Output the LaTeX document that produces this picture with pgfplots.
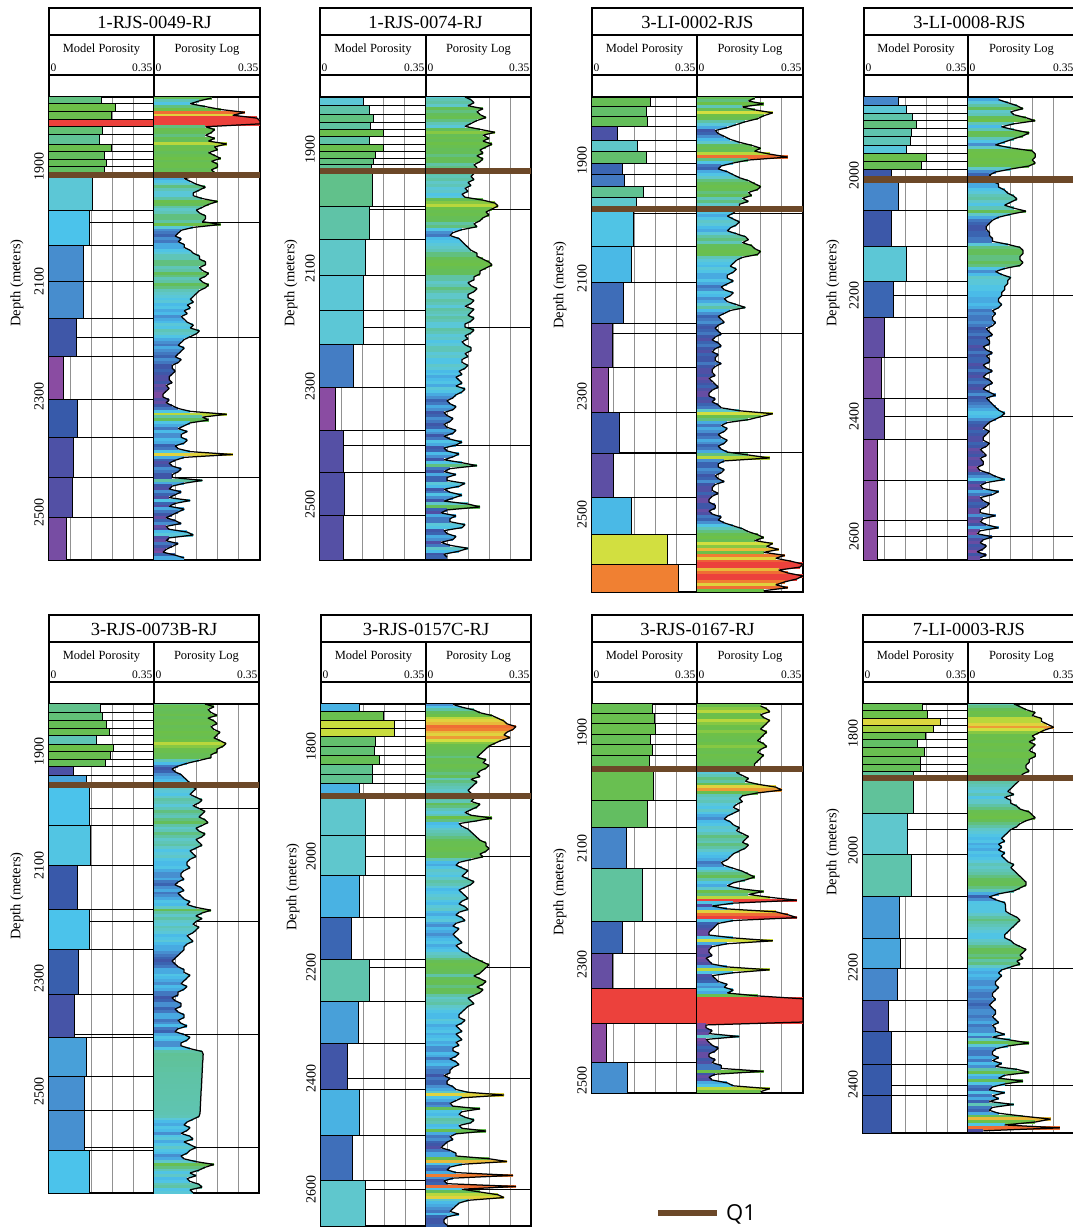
\documentclass[border=0pt]{standalone}
\usepackage{fontspec}
\setmainfont{Liberation Serif}
\newfontfamily\legfont{Open Sans}
\usepackage{pgfplots}
\usepackage{pgfplotstable}
\pgfplotsset{compat=1.18}

\definecolor{gridgray}{RGB}{145,145,145}
\definecolor{qbrown}{RGB}{108,72,40}

\pgfplotsset{
  % colour scale of the model porosity blocks
  colormap={poro}{
    rgb255(0pt)=(140,75,160)
    rgb255(50pt)=(138,76,162)
    rgb255(62pt)=(110,78,163)
    rgb255(80pt)=(80,80,165)
    rgb255(95pt)=(55,90,170)
    rgb255(112pt)=(70,130,200)
    rgb255(125pt)=(72,165,220)
    rgb255(134pt)=(75,195,235)
    rgb255(146pt)=(95,200,210)
    rgb255(165pt)=(95,195,165)
    rgb255(185pt)=(100,190,90)
    rgb255(225pt)=(110,192,70)
    rgb255(240pt)=(185,215,60)
    rgb255(252pt)=(215,225,65)
    rgb255(265pt)=(230,200,60)
    rgb255(290pt)=(240,125,50)
    rgb255(330pt)=(236,65,60)
    rgb255(350pt)=(236,65,60)
  },
  % colour scale of the porosity log samples
  colormap={logmap}{
    rgb255(0pt)=(140,75,160)
    rgb255(30pt)=(125,75,162)
    rgb255(50pt)=(80,80,165)
    rgb255(65pt)=(55,90,170)
    rgb255(85pt)=(70,130,200)
    rgb255(100pt)=(72,170,225)
    rgb255(115pt)=(75,195,235)
    rgb255(135pt)=(95,200,210)
    rgb255(160pt)=(95,195,165)
    rgb255(180pt)=(100,190,90)
    rgb255(225pt)=(110,192,70)
    rgb255(240pt)=(185,215,60)
    rgb255(252pt)=(215,225,65)
    rgb255(265pt)=(230,200,60)
    rgb255(290pt)=(240,125,50)
    rgb255(330pt)=(236,65,60)
    rgb255(350pt)=(236,65,60)
  },
  track/.style={
    anchor=north west, scale only axis,
    xmin=0, xmax=0.35, y dir=reverse,
    axis line style={line width=1.3pt},
    xtick={0.07,0.14,0.21,0.28}, xticklabels={}, xmajorgrids,
    major grid style={line width=0.9pt, color=gridgray},
    major tick length=0pt,
    colormap name=poro, point meta min=0, point meta max=0.35,
  },
  logaxis/.style={track, colormap name=logmap, ytick=\empty},
  depthticks/.style={
    yticklabel style={rotate=90, anchor=south, inner sep=0pt,
      font=\fontsize{14}{14}\selectfont},
    yticklabel shift=5pt,
  },
}

% model porosity blocks: top, bottom, porosity; horizontal grid; Q1 depth; pt per metre
\newcommand{\modeltrack}[4]{%
  \addplot[black, line width=0.7pt, quiver={u=0.35,v=0}] table[x expr=0, y=gd] {#2};
  \addplot[quiver={u=-\thisrow{por}, v=0, colored=mapped color,
      every arrow/.append style={line width={\bh*#4*1pt}}},
    point meta=\thisrow{por},
    visualization depends on={\thisrow{bot}-\thisrow{top} \as \bh}]
    table[x=por, y expr={(\thisrow{top}+\thisrow{bot})/2}] {#1};
  \addplot[black, line width=0.7pt, quiver={u=0.35,v=0}] table[x expr=0, y=top] {#1};
  \addplot[black, line width=0.7pt, quiver={u=0.35,v=0}] table[x expr=0, y=bot] {#1};
  \addplot[black, line width=0.7pt, quiver={u=0,v=\thisrow{bot}-\thisrow{top}}] table[x=por, y=top] {#1};
  \addplot[qbrown, line width=6.5pt] coordinates {(0,#3) (0.35,#3)};
}
% porosity log sampled every 5 m: depth, porosity
\newcommand{\logtrack}[4]{%
  \addplot[black, line width=0.7pt, quiver={u=0.35,v=0}] table[x expr=0, y=gd] {#2};
  \addplot[quiver={u=-\thisrow{p}, v=0, colored=mapped color},
    point meta=\thisrow{p}, line width={5*#4*1pt+0.4pt}] table[x=p, y=d] {#1};
  \addplot[black, line width=1.25pt, line join=bevel] table[x=p, y=d] {#1};
  \addplot[qbrown, line width=6.5pt] coordinates {(0,#3) (0.35,#3)};
}
% header boxes of a well: left, divider, right, top, name
\newcommand{\wellframe}[5]{%
  \begin{scope}[x=1pt,y=-1pt]
  \draw[line width=1.3pt] (#1,#4) rectangle (#3,#4+27);
  \draw[line width=1.3pt] (#1,#4+27) rectangle (#3,#4+67);
  \draw[line width=1.3pt] (#1,#4+67) rectangle (#3,#4+89);
  \draw[line width=1.3pt] (#2,#4+27) -- (#2,#4+89);
  \node[font=\fontsize{18.5}{18.5}\selectfont] at ({(#1+#3)/2},#4+14) {#5};
  \node[font=\fontsize{12.5}{12.5}\selectfont] at ({(#1+#2)/2},#4+42) {Model Porosity};
  \node[font=\fontsize{12.5}{12.5}\selectfont] at ({(#2+#3)/2},#4+42) {Porosity Log};
  \node[font=\fontsize{11.5}{11.5}\selectfont, anchor=west, inner sep=1.5pt] at (#1,#4+60) {0};
  \node[font=\fontsize{11.5}{11.5}\selectfont, anchor=east, inner sep=1.5pt] at (#2,#4+60) {0.35};
  \node[font=\fontsize{11.5}{11.5}\selectfont, anchor=west, inner sep=1.5pt] at (#2,#4+60) {0};
  \node[font=\fontsize{11.5}{11.5}\selectfont, anchor=east, inner sep=1.5pt] at (#3,#4+60) {0.35};
  \end{scope}
}
\newcommand{\depthlabel}[2]{%
  \node[rotate=90, font=\fontsize{14.5}{14.5}\selectfont] at (#1pt,-#2pt) {Depth (meters)};
}

% ---------------- 1-RJS-0049-RJ ----------------
\pgfplotstableread{
top bot por
1778 1790 0.175
1790 1804 0.220
1804 1818 0.208
1818 1830 0.350
1830 1844 0.178
1844 1860 0.169
1860 1873 0.208
1873 1887 0.184
1887 1899 0.190
1899 1914 0.183
1914 1975 0.144
1975 2036 0.134
2036 2099 0.116
2099 2163 0.116
2163 2229 0.090
2229 2304 0.047
2304 2370 0.095
2370 2439 0.082
2439 2510 0.078
2510 2584 0.058
}\blkA
\pgfplotstableread{
gd
1997
2196
2439
}\gridA
\pgfplotstableread[row sep=\\]{
d p\\
1780 0.19\\ 1785 0.15\\ 1790 0.12\\ 1795 0.17\\ 1800 0.22\\ 1805 0.30\\ 1810 0.26\\ 1815 0.34\\
1820 0.35\\ 1825 0.35\\ 1830 0.17\\ 1835 0.20\\ 1840 0.19\\ 1845 0.17\\ 1850 0.20\\ 1855 0.18\\
1860 0.24\\ 1865 0.20\\ 1870 0.21\\ 1875 0.18\\ 1880 0.20\\ 1885 0.22\\ 1890 0.19\\ 1895 0.21\\
1900 0.21\\ 1905 0.19\\ 1910 0.20\\ 1915 0.15\\ 1920 0.10\\ 1925 0.12\\ 1930 0.14\\ 1935 0.17\\
1940 0.15\\ 1945 0.13\\ 1950 0.13\\ 1955 0.16\\ 1960 0.21\\ 1965 0.18\\ 1970 0.16\\ 1975 0.14\\
1980 0.15\\ 1985 0.17\\ 1990 0.17\\ 1995 0.16\\ 2000 0.22\\ 2005 0.13\\ 2010 0.09\\ 2015 0.08\\
2020 0.07\\ 2025 0.09\\ 2030 0.08\\ 2035 0.10\\ 2040 0.10\\ 2045 0.12\\ 2050 0.13\\ 2055 0.15\\
2060 0.15\\ 2065 0.17\\ 2070 0.17\\ 2075 0.15\\ 2080 0.16\\ 2085 0.18\\ 2090 0.17\\ 2095 0.15\\
2100 0.16\\ 2105 0.18\\ 2110 0.17\\ 2115 0.15\\ 2120 0.14\\ 2125 0.13\\ 2130 0.12\\ 2135 0.13\\
2140 0.11\\ 2145 0.12\\ 2150 0.10\\ 2155 0.11\\ 2160 0.09\\ 2165 0.10\\ 2170 0.11\\ 2175 0.13\\
2180 0.12\\ 2185 0.15\\ 2190 0.14\\ 2195 0.12\\ 2200 0.10\\ 2205 0.09\\ 2210 0.08\\ 2215 0.10\\
2220 0.09\\ 2225 0.08\\ 2230 0.07\\ 2235 0.09\\ 2240 0.08\\ 2245 0.06\\ 2250 0.06\\ 2255 0.07\\
2260 0.06\\ 2265 0.05\\ 2270 0.05\\ 2275 0.06\\ 2280 0.04\\ 2285 0.05\\ 2290 0.04\\ 2295 0.03\\
2300 0.03\\ 2305 0.05\\ 2310 0.04\\ 2315 0.06\\ 2320 0.08\\ 2325 0.12\\ 2330 0.24\\ 2335 0.16\\
2340 0.18\\ 2345 0.12\\ 2350 0.10\\ 2355 0.08\\ 2360 0.11\\ 2365 0.09\\ 2370 0.09\\ 2375 0.11\\
2380 0.10\\ 2385 0.07\\ 2390 0.08\\ 2395 0.12\\ 2400 0.26\\ 2405 0.10\\ 2410 0.07\\ 2415 0.05\\
2420 0.06\\ 2425 0.09\\ 2430 0.08\\ 2435 0.06\\ 2440 0.06\\ 2445 0.16\\ 2450 0.10\\ 2455 0.06\\
2460 0.05\\ 2465 0.09\\ 2470 0.07\\ 2475 0.05\\ 2480 0.12\\ 2485 0.07\\ 2490 0.05\\ 2495 0.10\\
2500 0.08\\ 2505 0.06\\ 2510 0.04\\ 2515 0.07\\ 2520 0.09\\ 2525 0.04\\ 2530 0.05\\ 2535 0.11\\
2540 0.13\\ 2545 0.05\\ 2550 0.04\\ 2555 0.08\\ 2560 0.06\\ 2565 0.04\\ 2570 0.03\\ 2575 0.07\\
2580 0.10\\
}\logA

% ---------------- 1-RJS-0074-RJ ----------------
\pgfplotstableread{
top bot por
1810 1825 0.144
1825 1840 0.164
1840 1853 0.175
1853 1865 0.166
1865 1877 0.210
1877 1890 0.164
1890 1903 0.210
1903 1914 0.183
1914 1925 0.175
1925 1936 0.170
1936 1996 0.172
1996 2051 0.164
2051 2112 0.150
2112 2171 0.144
2171 2230 0.144
2230 2303 0.110
2303 2375 0.050
2375 2447 0.077
2447 2520 0.080
2520 2595 0.077
}\blkB
\pgfplotstableread{
gd
2000
2200
2400
}\gridB
\pgfplotstableread[row sep=\\]{
d p\\
1810 0.13\\ 1815 0.15\\ 1820 0.16\\ 1825 0.14\\ 1830 0.19\\ 1835 0.17\\ 1840 0.18\\ 1845 0.20\\
1850 0.17\\ 1855 0.15\\ 1860 0.13\\ 1865 0.18\\ 1870 0.23\\ 1875 0.19\\ 1880 0.21\\ 1885 0.19\\
1890 0.22\\ 1895 0.20\\ 1900 0.18\\ 1905 0.19\\ 1910 0.17\\ 1915 0.19\\ 1920 0.18\\ 1925 0.16\\
1930 0.17\\ 1935 0.16\\ 1940 0.16\\ 1945 0.15\\ 1950 0.16\\ 1955 0.14\\ 1960 0.15\\ 1965 0.13\\
1970 0.14\\ 1975 0.12\\ 1980 0.13\\ 1985 0.19\\ 1990 0.23\\ 1995 0.24\\ 2000 0.22\\ 2005 0.20\\
2010 0.21\\ 2015 0.19\\ 2020 0.18\\ 2025 0.16\\ 2030 0.17\\ 2035 0.12\\ 2040 0.09\\ 2045 0.08\\
2050 0.11\\ 2055 0.12\\ 2060 0.13\\ 2065 0.14\\ 2070 0.15\\ 2075 0.17\\ 2080 0.17\\ 2085 0.19\\
2090 0.21\\ 2095 0.22\\ 2100 0.20\\ 2105 0.18\\ 2110 0.18\\ 2115 0.16\\ 2120 0.16\\ 2125 0.14\\
2130 0.15\\ 2135 0.17\\ 2140 0.16\\ 2145 0.14\\ 2150 0.14\\ 2155 0.16\\ 2160 0.15\\ 2165 0.13\\
2170 0.16\\ 2175 0.15\\ 2180 0.14\\ 2185 0.16\\ 2190 0.15\\ 2195 0.13\\ 2200 0.13\\ 2205 0.16\\
2210 0.15\\ 2215 0.13\\ 2220 0.14\\ 2225 0.12\\ 2230 0.13\\ 2235 0.15\\ 2240 0.15\\ 2245 0.13\\
2250 0.14\\ 2255 0.12\\ 2260 0.12\\ 2265 0.14\\ 2270 0.13\\ 2275 0.11\\ 2280 0.12\\ 2285 0.10\\
2290 0.11\\ 2295 0.12\\ 2300 0.10\\ 2305 0.13\\ 2310 0.12\\ 2315 0.10\\ 2320 0.09\\ 2325 0.07\\
2330 0.08\\ 2335 0.10\\ 2340 0.09\\ 2345 0.06\\ 2350 0.07\\ 2355 0.09\\ 2360 0.08\\ 2365 0.06\\
2370 0.07\\ 2375 0.10\\ 2380 0.09\\ 2385 0.06\\ 2390 0.08\\ 2395 0.12\\ 2400 0.10\\ 2405 0.06\\
2410 0.07\\ 2415 0.11\\ 2420 0.09\\ 2425 0.06\\ 2430 0.12\\ 2435 0.17\\ 2440 0.08\\ 2445 0.06\\
2450 0.10\\ 2455 0.07\\ 2460 0.07\\ 2465 0.13\\ 2470 0.11\\ 2475 0.06\\ 2480 0.08\\ 2485 0.12\\
2490 0.09\\ 2495 0.06\\ 2500 0.14\\ 2505 0.18\\ 2510 0.07\\ 2515 0.05\\ 2520 0.10\\ 2525 0.08\\
2530 0.08\\ 2535 0.13\\ 2540 0.12\\ 2545 0.06\\ 2550 0.07\\ 2555 0.10\\ 2560 0.09\\ 2565 0.05\\
2570 0.08\\ 2575 0.14\\ 2580 0.11\\ 2585 0.06\\ 2590 0.07\\
}\logB

% ---------------- 3-LI-0002-RJS ----------------
\pgfplotstableread{
top bot por
1793 1808.5 0.194
1808.5 1826.6 0.181
1826.6 1843.5 0.186
1843.5 1866 0.083
1866 1884.7 0.150
1884.7 1905.6 0.180
1905.6 1924.3 0.100
1924.3 1945.2 0.108
1945.2 1963.8 0.170
1963.8 1983 0.148
1983 2045.8 0.137
2045.8 2108 0.131
2108 2176.3 0.103
2176.3 2250.8 0.069
2250.8 2327.1 0.053
2327.1 2396.6 0.091
2396.6 2471.2 0.072
2471.2 2533.9 0.131
2533.9 2584.7 0.250
2584.7 2633 0.289
}\blkC
\pgfplotstableread{
gd
1990
2193
2395
}\gridC
\pgfplotstableread[row sep=\\]{
d p\\
1795 0.19\\ 1800 0.17\\ 1805 0.22\\ 1810 0.15\\ 1815 0.19\\ 1820 0.25\\ 1825 0.22\\ 1830 0.20\\
1835 0.16\\ 1840 0.13\\ 1845 0.10\\ 1850 0.06\\ 1855 0.07\\ 1860 0.09\\ 1865 0.11\\ 1870 0.14\\
1875 0.18\\ 1880 0.21\\ 1885 0.19\\ 1890 0.24\\ 1895 0.30\\ 1900 0.17\\ 1905 0.12\\ 1910 0.08\\
1915 0.07\\ 1920 0.10\\ 1925 0.12\\ 1930 0.14\\ 1935 0.17\\ 1940 0.19\\ 1945 0.21\\ 1950 0.20\\
1955 0.17\\ 1960 0.18\\ 1965 0.15\\ 1970 0.17\\ 1975 0.14\\ 1980 0.14\\ 1985 0.13\\ 1990 0.12\\
1995 0.10\\ 2000 0.12\\ 2005 0.14\\ 2010 0.13\\ 2015 0.11\\ 2020 0.10\\ 2025 0.13\\ 2030 0.16\\
2035 0.17\\ 2040 0.15\\ 2045 0.18\\ 2050 0.19\\ 2055 0.21\\ 2060 0.20\\ 2065 0.15\\ 2070 0.13\\
2075 0.12\\ 2080 0.11\\ 2085 0.13\\ 2090 0.12\\ 2095 0.10\\ 2100 0.10\\ 2105 0.12\\ 2110 0.10\\
2115 0.08\\ 2120 0.09\\ 2125 0.12\\ 2130 0.11\\ 2135 0.09\\ 2140 0.10\\ 2145 0.13\\ 2150 0.16\\
2155 0.11\\ 2160 0.09\\ 2165 0.07\\ 2170 0.08\\ 2175 0.09\\ 2180 0.07\\ 2185 0.06\\ 2190 0.07\\
2195 0.08\\ 2200 0.06\\ 2205 0.05\\ 2210 0.07\\ 2215 0.08\\ 2220 0.06\\ 2225 0.05\\ 2230 0.07\\
2235 0.06\\ 2240 0.06\\ 2245 0.08\\ 2250 0.06\\ 2255 0.05\\ 2260 0.05\\ 2265 0.06\\ 2270 0.04\\
2275 0.05\\ 2280 0.06\\ 2285 0.07\\ 2290 0.05\\ 2295 0.04\\ 2300 0.04\\ 2305 0.06\\ 2310 0.05\\
2315 0.07\\ 2320 0.08\\ 2325 0.14\\ 2330 0.25\\ 2335 0.21\\ 2340 0.17\\ 2345 0.10\\ 2350 0.08\\
2355 0.10\\ 2360 0.09\\ 2365 0.07\\ 2370 0.08\\ 2375 0.10\\ 2380 0.09\\ 2385 0.07\\ 2390 0.08\\
2395 0.10\\ 2400 0.17\\ 2405 0.24\\ 2410 0.09\\ 2415 0.07\\ 2420 0.07\\ 2425 0.09\\ 2430 0.08\\
2435 0.06\\ 2440 0.07\\ 2445 0.09\\ 2450 0.06\\ 2455 0.05\\ 2460 0.05\\ 2465 0.07\\ 2470 0.05\\
2475 0.04\\ 2480 0.04\\ 2485 0.06\\ 2490 0.06\\ 2495 0.04\\ 2500 0.05\\ 2505 0.08\\ 2510 0.07\\
2515 0.09\\ 2520 0.12\\ 2525 0.15\\ 2530 0.17\\ 2535 0.20\\ 2540 0.22\\ 2545 0.19\\ 2550 0.25\\
2555 0.23\\ 2560 0.27\\ 2565 0.22\\ 2570 0.29\\ 2575 0.26\\ 2580 0.31\\ 2585 0.35\\ 2590 0.34\\
2595 0.27\\ 2600 0.30\\ 2605 0.35\\ 2610 0.33\\ 2615 0.29\\ 2620 0.26\\ 2625 0.30\\ 2630 0.22\\
}\logC

% ---------------- 3-LI-0008-RJS ----------------
\pgfplotstableread{
top bot por
1870 1883.9 0.114
1883.9 1897.7 0.144
1897.7 1909.9 0.163
1909.9 1922.6 0.176
1922.6 1936.5 0.161
1936.5 1951.4 0.157
1951.4 1964 0.141
1964 1977.9 0.211
1977.9 1990.6 0.194
1990.6 2006.6 0.092
2006.6 2058 0.114
2058 2118.9 0.092
2118.9 2175.8 0.144
2175.8 2235.5 0.100
2235.5 2301.8 0.070
2301.8 2369.8 0.059
2369.8 2437.8 0.067
2437.8 2505.8 0.044
2505.8 2572.1 0.044
2572.1 2639 0.044
}\blkD
\pgfplotstableread{
gd
2200
2400
2600
}\gridD
\pgfplotstableread[row sep=\\]{
d p\\
1875 0.10\\ 1880 0.13\\ 1885 0.16\\ 1890 0.18\\ 1895 0.14\\ 1900 0.15\\ 1905 0.19\\ 1910 0.22\\
1915 0.15\\ 1920 0.11\\ 1925 0.15\\ 1930 0.20\\ 1935 0.18\\ 1940 0.15\\ 1945 0.12\\ 1950 0.09\\
1955 0.14\\ 1960 0.21\\ 1965 0.22\\ 1970 0.22\\ 1975 0.21\\ 1980 0.22\\ 1985 0.20\\ 1990 0.14\\
1995 0.09\\ 2000 0.07\\ 2005 0.08\\ 2010 0.08\\ 2015 0.10\\ 2020 0.10\\ 2025 0.12\\ 2030 0.13\\
2035 0.15\\ 2040 0.16\\ 2045 0.14\\ 2050 0.12\\ 2055 0.15\\ 2060 0.19\\ 2065 0.14\\ 2070 0.10\\
2075 0.08\\ 2080 0.07\\ 2085 0.06\\ 2090 0.06\\ 2095 0.07\\ 2100 0.07\\ 2105 0.08\\ 2110 0.08\\
2115 0.13\\ 2120 0.17\\ 2125 0.18\\ 2130 0.18\\ 2135 0.17\\ 2140 0.17\\ 2145 0.18\\ 2150 0.17\\
2155 0.12\\ 2160 0.09\\ 2165 0.11\\ 2170 0.14\\ 2175 0.13\\ 2180 0.13\\ 2185 0.12\\ 2190 0.12\\
2195 0.11\\ 2200 0.11\\ 2205 0.10\\ 2210 0.10\\ 2215 0.11\\ 2220 0.10\\ 2225 0.08\\ 2230 0.09\\
2235 0.08\\ 2240 0.08\\ 2245 0.09\\ 2250 0.08\\ 2255 0.06\\ 2260 0.07\\ 2265 0.08\\ 2270 0.06\\
2275 0.07\\ 2280 0.07\\ 2285 0.05\\ 2290 0.06\\ 2295 0.08\\ 2300 0.06\\ 2305 0.07\\ 2310 0.07\\
2315 0.05\\ 2320 0.06\\ 2325 0.08\\ 2330 0.06\\ 2335 0.05\\ 2340 0.07\\ 2345 0.08\\ 2350 0.06\\
2355 0.05\\ 2360 0.07\\ 2365 0.09\\ 2370 0.06\\ 2375 0.07\\ 2380 0.08\\ 2385 0.09\\ 2390 0.10\\
2395 0.12\\ 2400 0.11\\ 2405 0.09\\ 2410 0.07\\ 2415 0.06\\ 2420 0.05\\ 2425 0.07\\ 2430 0.06\\
2435 0.05\\ 2440 0.05\\ 2445 0.07\\ 2450 0.06\\ 2455 0.04\\ 2460 0.05\\ 2465 0.06\\ 2470 0.04\\
2475 0.05\\ 2480 0.05\\ 2485 0.03\\ 2490 0.04\\ 2495 0.07\\ 2500 0.09\\ 2505 0.12\\ 2510 0.06\\
2515 0.04\\ 2520 0.05\\ 2525 0.10\\ 2530 0.08\\ 2535 0.04\\ 2540 0.05\\ 2545 0.07\\ 2550 0.06\\
2555 0.04\\ 2560 0.04\\ 2565 0.09\\ 2570 0.05\\ 2575 0.04\\ 2580 0.06\\ 2585 0.10\\ 2590 0.04\\
2595 0.03\\ 2600 0.08\\ 2605 0.05\\ 2610 0.04\\ 2615 0.06\\ 2620 0.05\\ 2625 0.03\\ 2630 0.06\\
2635 0.04\\
}\logD

% ---------------- 3-RJS-0073B-RJ ----------------
\pgfplotstableread{
top bot por
1813 1829.7 0.172
1829.7 1843.4 0.177
1843.4 1858.1 0.192
1858.1 1869.9 0.200
1869.9 1885.8 0.158
1885.8 1899.5 0.214
1899.5 1912.9 0.205
1912.9 1926 0.188
1926 1941.9 0.082
1941.9 1958.4 0.125
1958.4 2029.2 0.134
2029.2 2100 0.138
2100 2178 0.094
2178 2248.7 0.134
2248.7 2328.3 0.097
2328.3 2404.4 0.086
2404.4 2473.5 0.123
2473.5 2533.6 0.117
2533.6 2604.4 0.117
2604.4 2681 0.134
}\blkE
\pgfplotstableread{
gd
2000
2200
2400
2600
}\gridE
\pgfplotstableread[row sep=\\]{
d p\\
1815 0.17\\ 1820 0.20\\ 1825 0.18\\ 1830 0.19\\ 1835 0.21\\ 1840 0.18\\ 1845 0.20\\ 1850 0.21\\
1855 0.19\\ 1860 0.20\\ 1865 0.22\\ 1870 0.21\\ 1875 0.20\\ 1880 0.22\\ 1885 0.24\\ 1890 0.23\\
1895 0.21\\ 1900 0.21\\ 1905 0.19\\ 1910 0.19\\ 1915 0.15\\ 1920 0.11\\ 1925 0.08\\ 1930 0.06\\
1935 0.07\\ 1940 0.09\\ 1945 0.10\\ 1950 0.11\\ 1955 0.12\\ 1960 0.12\\ 1965 0.14\\ 1970 0.13\\
1975 0.12\\ 1980 0.14\\ 1985 0.16\\ 1990 0.15\\ 1995 0.13\\ 2000 0.15\\ 2005 0.17\\ 2010 0.16\\
2015 0.15\\ 2020 0.17\\ 2025 0.18\\ 2030 0.16\\ 2035 0.14\\ 2040 0.15\\ 2045 0.17\\ 2050 0.16\\
2055 0.14\\ 2060 0.15\\ 2065 0.16\\ 2070 0.14\\ 2075 0.12\\ 2080 0.13\\ 2085 0.14\\ 2090 0.12\\
2095 0.11\\ 2100 0.11\\ 2105 0.12\\ 2110 0.10\\ 2115 0.09\\ 2120 0.09\\ 2125 0.10\\ 2130 0.08\\
2135 0.07\\ 2140 0.09\\ 2145 0.10\\ 2150 0.08\\ 2155 0.09\\ 2160 0.10\\ 2165 0.12\\ 2170 0.11\\
2175 0.14\\ 2180 0.19\\ 2185 0.16\\ 2190 0.14\\ 2195 0.16\\ 2200 0.14\\ 2205 0.13\\ 2210 0.15\\
2215 0.14\\ 2220 0.13\\ 2225 0.11\\ 2230 0.12\\ 2235 0.13\\ 2240 0.11\\ 2245 0.10\\ 2250 0.10\\
2255 0.09\\ 2260 0.08\\ 2265 0.07\\ 2270 0.06\\ 2275 0.07\\ 2280 0.08\\ 2285 0.10\\ 2290 0.10\\
2295 0.12\\ 2300 0.11\\ 2305 0.10\\ 2310 0.09\\ 2315 0.11\\ 2320 0.10\\ 2325 0.08\\ 2330 0.08\\
2335 0.06\\ 2340 0.07\\ 2345 0.09\\ 2350 0.09\\ 2355 0.07\\ 2360 0.08\\ 2365 0.10\\ 2370 0.10\\
2375 0.08\\ 2380 0.09\\ 2385 0.11\\ 2390 0.08\\ 2395 0.07\\ 2400 0.10\\ 2405 0.12\\ 2410 0.11\\
2415 0.09\\ 2420 0.09\\ 2425 0.12\\ 2430 0.16\\ 2435 0.164\\ 2440 0.163\\ 2445 0.163\\ 2450 0.162\\
2455 0.162\\ 2460 0.161\\ 2465 0.161\\ 2470 0.160\\ 2475 0.160\\ 2480 0.159\\ 2485 0.159\\ 2490 0.158\\
2495 0.158\\ 2500 0.157\\ 2505 0.157\\ 2510 0.156\\ 2515 0.156\\ 2520 0.155\\ 2525 0.155\\ 2530 0.154\\
2535 0.154\\ 2540 0.153\\ 2545 0.150\\ 2550 0.13\\ 2555 0.11\\ 2560 0.10\\ 2565 0.12\\ 2570 0.11\\
2575 0.09\\ 2580 0.12\\ 2585 0.13\\ 2590 0.10\\ 2595 0.12\\ 2600 0.14\\ 2605 0.12\\ 2610 0.11\\
2615 0.09\\ 2620 0.10\\ 2625 0.14\\ 2630 0.20\\ 2635 0.17\\ 2640 0.15\\ 2645 0.12\\ 2650 0.14\\
2655 0.11\\ 2660 0.12\\ 2665 0.15\\ 2670 0.16\\ 2675 0.12\\ 2680 0.13\\
}\logE

% ---------------- 3-RJS-0157C-RJ ----------------
\pgfplotstableread{
top bot por
1722 1737.5 0.129
1737.5 1753.8 0.207
1753.8 1768 0.246
1768 1782.1 0.246
1782.1 1799.9 0.180
1799.9 1817.6 0.178
1817.6 1833.9 0.193
1833.9 1851.7 0.171
1851.7 1867.3 0.171
1867.3 1890 0.129
1890 1960.9 0.148
1960.9 2032.6 0.148
2032.6 2108.5 0.129
2108.5 2185.1 0.100
2185.1 2261 0.162
2261 2336.9 0.123
2336.9 2419.2 0.089
2419.2 2502.2 0.129
2502.2 2583.8 0.104
2583.8 2667 0.148
}\blkF
\pgfplotstableread{
gd
1800
2000
2200
2400
2600
}\gridF
\pgfplotstableread[row sep=\\]{
d p\\
1725 0.09\\ 1730 0.12\\ 1735 0.16\\ 1740 0.18\\ 1745 0.22\\ 1750 0.24\\ 1755 0.26\\ 1760 0.27\\
1765 0.30\\ 1770 0.29\\ 1775 0.27\\ 1780 0.26\\ 1785 0.28\\ 1790 0.25\\ 1795 0.23\\ 1800 0.21\\
1805 0.20\\ 1810 0.19\\ 1815 0.18\\ 1820 0.17\\ 1825 0.20\\ 1830 0.19\\ 1835 0.21\\ 1840 0.20\\
1845 0.18\\ 1850 0.17\\ 1855 0.18\\ 1860 0.15\\ 1865 0.17\\ 1870 0.16\\ 1875 0.15\\ 1880 0.14\\
1885 0.15\\ 1890 0.15\\ 1895 0.16\\ 1900 0.15\\ 1905 0.18\\ 1910 0.17\\ 1915 0.15\\ 1920 0.13\\
1925 0.15\\ 1930 0.22\\ 1935 0.17\\ 1940 0.11\\ 1945 0.12\\ 1950 0.14\\ 1955 0.15\\ 1960 0.16\\
1965 0.17\\ 1970 0.18\\ 1975 0.20\\ 1980 0.20\\ 1985 0.21\\ 1990 0.20\\ 1995 0.18\\ 2000 0.19\\
2005 0.15\\ 2010 0.11\\ 2015 0.10\\ 2020 0.12\\ 2025 0.14\\ 2030 0.13\\ 2035 0.12\\ 2040 0.14\\
2045 0.16\\ 2050 0.15\\ 2055 0.13\\ 2060 0.11\\ 2065 0.12\\ 2070 0.13\\ 2075 0.14\\ 2080 0.12\\
2085 0.11\\ 2090 0.13\\ 2095 0.14\\ 2100 0.11\\ 2105 0.10\\ 2110 0.12\\ 2115 0.13\\ 2120 0.10\\
2125 0.09\\ 2130 0.11\\ 2135 0.10\\ 2140 0.09\\ 2145 0.10\\ 2150 0.11\\ 2155 0.12\\ 2160 0.10\\
2165 0.11\\ 2170 0.12\\ 2175 0.14\\ 2180 0.15\\ 2185 0.17\\ 2190 0.19\\ 2195 0.21\\ 2200 0.20\\
2205 0.19\\ 2210 0.18\\ 2215 0.16\\ 2220 0.18\\ 2225 0.20\\ 2230 0.19\\ 2235 0.17\\ 2240 0.19\\
2245 0.18\\ 2250 0.16\\ 2255 0.14\\ 2260 0.15\\ 2265 0.16\\ 2270 0.14\\ 2275 0.13\\ 2280 0.12\\
2285 0.11\\ 2290 0.11\\ 2295 0.13\\ 2300 0.12\\ 2305 0.10\\ 2310 0.11\\ 2315 0.12\\ 2320 0.10\\
2325 0.11\\ 2330 0.12\\ 2335 0.10\\ 2340 0.11\\ 2345 0.09\\ 2350 0.09\\ 2355 0.11\\ 2360 0.10\\
2365 0.08\\ 2370 0.10\\ 2375 0.11\\ 2380 0.09\\ 2385 0.08\\ 2390 0.08\\ 2395 0.06\\ 2400 0.08\\
2405 0.07\\ 2410 0.07\\ 2415 0.09\\ 2420 0.10\\ 2425 0.14\\ 2430 0.26\\ 2435 0.12\\ 2440 0.10\\
2445 0.08\\ 2450 0.09\\ 2455 0.18\\ 2460 0.12\\ 2465 0.11\\ 2470 0.13\\ 2475 0.16\\ 2480 0.15\\
2485 0.11\\ 2490 0.12\\ 2495 0.20\\ 2500 0.10\\ 2505 0.08\\ 2510 0.09\\ 2515 0.07\\ 2520 0.06\\
2525 0.05\\ 2530 0.08\\ 2535 0.10\\ 2540 0.10\\ 2545 0.21\\ 2550 0.27\\ 2555 0.12\\ 2560 0.08\\
2565 0.07\\ 2570 0.10\\ 2575 0.29\\ 2580 0.09\\ 2585 0.06\\ 2590 0.07\\ 2595 0.30\\ 2600 0.12\\
2605 0.18\\ 2610 0.24\\ 2615 0.26\\ 2620 0.14\\ 2625 0.11\\ 2630 0.10\\ 2635 0.09\\ 2640 0.08\\
2645 0.11\\ 2650 0.07\\ 2655 0.06\\ 2660 0.06\\ 2665 0.07\\
}\logF

% ---------------- 3-RJS-0167-RJ ----------------
\pgfplotstableread{
top bot por
1850 1867.2 0.200
1867.2 1884.5 0.207
1884.5 1903.4 0.210
1903.4 1920.7 0.193
1920.7 1939.7 0.200
1939.7 1964 0.190
1964 2017.2 0.203
2017.2 2063.8 0.183
2063.8 2134.5 0.113
2134.5 2225.9 0.167
2225.9 2281 0.100
2281 2341.4 0.067
2341.4 2401.7 0.350
2401.7 2469 0.047
2469 2523 0.117
}\blkG
\pgfplotstableread{
gd
1964
}\gridG
\pgfplotstableread[row sep=\\]{
d p\\
1855 0.21\\ 1860 0.23\\ 1865 0.24\\ 1870 0.21\\ 1875 0.22\\ 1880 0.24\\ 1885 0.23\\ 1890 0.22\\
1895 0.21\\ 1900 0.23\\ 1905 0.22\\ 1910 0.21\\ 1915 0.20\\ 1920 0.22\\ 1925 0.23\\ 1930 0.21\\
1935 0.20\\ 1940 0.22\\ 1945 0.21\\ 1950 0.20\\ 1955 0.19\\ 1960 0.19\\ 1965 0.16\\ 1970 0.13\\
1975 0.15\\ 1980 0.17\\ 1985 0.16\\ 1990 0.20\\ 1995 0.26\\ 2000 0.28\\ 2005 0.20\\ 2010 0.15\\
2015 0.14\\ 2020 0.15\\ 2025 0.13\\ 2030 0.12\\ 2035 0.14\\ 2040 0.12\\ 2045 0.10\\ 2050 0.09\\
2055 0.11\\ 2060 0.12\\ 2065 0.14\\ 2070 0.13\\ 2075 0.15\\ 2080 0.17\\ 2085 0.16\\ 2090 0.15\\
2095 0.17\\ 2100 0.16\\ 2105 0.14\\ 2110 0.12\\ 2115 0.11\\ 2120 0.10\\ 2125 0.08\\ 2130 0.09\\
2135 0.12\\ 2140 0.15\\ 2145 0.17\\ 2150 0.19\\ 2155 0.16\\ 2160 0.12\\ 2165 0.10\\ 2170 0.14\\
2175 0.22\\ 2180 0.17\\ 2185 0.24\\ 2190 0.33\\ 2195 0.12\\ 2200 0.05\\ 2205 0.10\\ 2210 0.26\\
2215 0.30\\ 2220 0.33\\ 2225 0.12\\ 2230 0.07\\ 2235 0.06\\ 2240 0.05\\ 2245 0.04\\ 2250 0.04\\
2255 0.12\\ 2260 0.25\\ 2265 0.10\\ 2270 0.05\\ 2275 0.04\\ 2280 0.04\\ 2285 0.05\\ 2290 0.03\\
2295 0.04\\ 2300 0.05\\ 2305 0.10\\ 2310 0.24\\ 2315 0.12\\ 2320 0.05\\ 2325 0.06\\ 2330 0.07\\
2335 0.10\\ 2340 0.09\\ 2345 0.12\\ 2350 0.10\\ 2355 0.20\\ 2360 0.35\\ 2365 0.35\\ 2370 0.35\\
2375 0.35\\ 2380 0.35\\ 2385 0.35\\ 2390 0.35\\ 2395 0.35\\ 2400 0.35\\ 2405 0.03\\ 2410 0.03\\
2415 0.05\\ 2420 0.04\\ 2425 0.14\\ 2430 0.03\\ 2435 0.04\\ 2440 0.05\\ 2445 0.07\\ 2450 0.06\\
2455 0.04\\ 2460 0.04\\ 2465 0.06\\ 2470 0.05\\ 2475 0.08\\ 2480 0.08\\ 2485 0.22\\ 2490 0.06\\
2495 0.04\\ 2500 0.05\\ 2505 0.10\\ 2510 0.12\\ 2515 0.24\\ 2520 0.21\\
}\logG

% ---------------- 7-LI-0003-RJS ----------------
\pgfplotstableread{
top bot por
1750 1761.4 0.198
1761.4 1774.9 0.215
1774.9 1786.7 0.257
1786.7 1798.5 0.235
1798.5 1811.5 0.208
1811.5 1825.1 0.182
1825.1 1839.2 0.205
1839.2 1852.8 0.190
1852.8 1865.8 0.190
1865.8 1877 0.168
1877 1936.6 0.168
1936.6 2007.9 0.148
2007.9 2079.8 0.162
2079.8 2150.6 0.121
2150.6 2202.5 0.125
2202.5 2256.8 0.114
2256.8 2309.9 0.084
2309.9 2365.8 0.095
2365.8 2420.2 0.095
2420.2 2484 0.093
}\blkH
\pgfplotstableread{
gd
1798
1964
2202
2403
}\gridH
\pgfplotstableread[row sep=\\]{
d p\\
1750 0.15\\ 1755 0.17\\ 1760 0.19\\ 1765 0.22\\ 1770 0.21\\ 1775 0.24\\ 1780 0.24\\ 1785 0.26\\
1790 0.28\\ 1795 0.25\\ 1800 0.23\\ 1805 0.21\\ 1810 0.22\\ 1815 0.20\\ 1820 0.22\\ 1825 0.21\\
1830 0.20\\ 1835 0.22\\ 1840 0.22\\ 1845 0.20\\ 1850 0.20\\ 1855 0.19\\ 1860 0.19\\ 1865 0.20\\
1870 0.18\\ 1875 0.17\\ 1880 0.17\\ 1885 0.16\\ 1890 0.15\\ 1895 0.14\\ 1900 0.13\\ 1905 0.15\\
1910 0.12\\ 1915 0.14\\ 1920 0.14\\ 1925 0.16\\ 1930 0.17\\ 1935 0.20\\ 1940 0.21\\ 1945 0.22\\
1950 0.19\\ 1955 0.17\\ 1960 0.16\\ 1965 0.14\\ 1970 0.13\\ 1975 0.12\\ 1980 0.11\\ 1985 0.12\\
1990 0.10\\ 1995 0.11\\ 2000 0.10\\ 2005 0.12\\ 2010 0.11\\ 2015 0.12\\ 2020 0.13\\ 2025 0.15\\
2030 0.14\\ 2035 0.15\\ 2040 0.16\\ 2045 0.17\\ 2050 0.18\\ 2055 0.19\\ 2060 0.19\\ 2065 0.17\\
2070 0.15\\ 2075 0.10\\ 2080 0.07\\ 2085 0.09\\ 2090 0.12\\ 2095 0.123\\ 2100 0.123\\ 2105 0.124\\
2110 0.14\\ 2115 0.16\\ 2120 0.17\\ 2125 0.16\\ 2130 0.15\\ 2135 0.14\\ 2140 0.13\\ 2145 0.12\\
2150 0.12\\ 2155 0.14\\ 2160 0.15\\ 2165 0.17\\ 2170 0.19\\ 2175 0.18\\ 2180 0.17\\ 2185 0.18\\
2190 0.16\\ 2195 0.17\\ 2200 0.14\\ 2205 0.11\\ 2210 0.10\\ 2215 0.11\\ 2220 0.10\\ 2225 0.09\\
2230 0.09\\ 2235 0.10\\ 2240 0.09\\ 2245 0.08\\ 2250 0.08\\ 2255 0.09\\ 2260 0.08\\ 2265 0.07\\
2270 0.08\\ 2275 0.09\\ 2280 0.09\\ 2285 0.08\\ 2290 0.09\\ 2295 0.10\\ 2300 0.08\\ 2305 0.09\\
2310 0.09\\ 2315 0.12\\ 2320 0.08\\ 2325 0.14\\ 2330 0.20\\ 2335 0.13\\ 2340 0.09\\ 2345 0.08\\
2350 0.08\\ 2355 0.10\\ 2360 0.08\\ 2365 0.11\\ 2370 0.09\\ 2375 0.16\\ 2380 0.20\\ 2385 0.12\\
2390 0.10\\ 2395 0.18\\ 2400 0.12\\ 2405 0.08\\ 2410 0.07\\ 2415 0.12\\ 2420 0.08\\ 2425 0.10\\
2430 0.07\\ 2435 0.15\\ 2440 0.08\\ 2445 0.07\\ 2450 0.10\\ 2455 0.18\\ 2460 0.27\\ 2465 0.22\\
2470 0.12\\ 2475 0.30\\ 2480 0.05\\
}\logH

\begin{document}
\begin{tikzpicture}
\clip (0,0) rectangle (1073pt,-1227pt);
\fill[white] (0,0) rectangle (1073pt,-1227pt);

% ---- row 1
\wellframe{49}{154}{260}{8}{1-RJS-0049-RJ}
\begin{axis}[track, depthticks, at={(49pt,-97pt)}, width=105pt, height=463pt,
  ymin=1778.3, ymax=2583.5, ytick={1900,2100,2300,2500}, yticklabels={1900,2100,2300,2500}]
  \modeltrack{\blkA}{\gridA}{1914}{0.575}
\end{axis}
\begin{axis}[logaxis, at={(154pt,-97pt)}, width=106pt, height=463pt,
  ymin=1778.3, ymax=2583.5]
  \logtrack{\logA}{\gridA}{1914}{0.575}
\end{axis}
\depthlabel{17}{283}

\wellframe{320}{426}{531}{8}{1-RJS-0074-RJ}
\begin{axis}[track, depthticks, at={(320pt,-97pt)}, width=106pt, height=463pt,
  ymin=1810.2, ymax=2594.9, ytick={1900,2100,2300,2500}, yticklabels={1900,2100,2300,2500}]
  \modeltrack{\blkB}{\gridB}{1936}{0.59}
\end{axis}
\begin{axis}[logaxis, at={(426pt,-97pt)}, width=105pt, height=463pt,
  ymin=1810.2, ymax=2594.9]
  \logtrack{\logB}{\gridB}{1936}{0.59}
\end{axis}
\depthlabel{291}{283}

\wellframe{592}{697}{803}{8}{3-LI-0002-RJS}
\begin{axis}[track, depthticks, at={(592pt,-97pt)}, width=105pt, height=495pt,
  ymin=1793.2, ymax=2632.2, ytick={1900,2100,2300,2500}, yticklabels={1900,2100,2300,2500}]
  \modeltrack{\blkC}{\gridC}{1983}{0.59}
\end{axis}
\begin{axis}[logaxis, at={(697pt,-97pt)}, width=106pt, height=495pt,
  ymin=1793.2, ymax=2632.2]
  \logtrack{\logC}{\gridC}{1983}{0.59}
\end{axis}
\depthlabel{560}{285}

\wellframe{864}{968}{1075}{8}{3-LI-0008-RJS}
\begin{axis}[track, depthticks, at={(864pt,-97pt)}, width=104pt, height=463pt,
  ymin=1870.6, ymax=2638.5, ytick={2000,2200,2400,2600}, yticklabels={2000,2200,2400,2600}]
  \modeltrack{\blkD}{\gridD}{2007}{0.603}
\end{axis}
\begin{axis}[logaxis, at={(968pt,-97pt)}, width=107pt, height=463pt,
  ymin=1870.6, ymax=2638.5]
  \logtrack{\logD}{\gridD}{2007}{0.603}
\end{axis}
\depthlabel{833}{283}

% ---- row 2
\wellframe{49}{154}{259}{615}{3-RJS-0073B-RJ}
\begin{axis}[track, depthticks, at={(49pt,-704pt)}, width=105pt, height=489pt,
  ymin=1815.1, ymax=2680.5, ytick={1900,2100,2300,2500}, yticklabels={1900,2100,2300,2500}]
  \modeltrack{\blkE}{\gridE}{1958}{0.565}
\end{axis}
\begin{axis}[logaxis, at={(154pt,-704pt)}, width=105pt, height=489pt,
  ymin=1815.1, ymax=2680.5]
  \logtrack{\logE}{\gridE}{1958}{0.565}
\end{axis}
\depthlabel{17}{896}

\wellframe{321}{426}{531}{615}{3-RJS-0157C-RJ}
\begin{axis}[track, depthticks, at={(321pt,-704pt)}, width=105pt, height=522pt,
  ymin=1724.2, ymax=2666.4, ytick={1800,2000,2200,2400,2600}, yticklabels={1800,2000,2200,2400,2600}]
  \modeltrack{\blkF}{\gridF}{1890}{0.554}
\end{axis}
\begin{axis}[logaxis, at={(426pt,-704pt)}, width=105pt, height=522pt,
  ymin=1724.2, ymax=2666.4]
  \logtrack{\logF}{\gridF}{1890}{0.554}
\end{axis}
\depthlabel{293}{887}

\wellframe{592}{697}{803}{615}{3-RJS-0167-RJ}
\begin{axis}[track, depthticks, at={(592pt,-704pt)}, width=105pt, height=389pt,
  ymin=1851.7, ymax=2522.4, ytick={1900,2100,2300,2500}, yticklabels={1900,2100,2300,2500}]
  \modeltrack{\blkG}{\gridG}{1964}{0.58}
\end{axis}
\begin{axis}[logaxis, at={(697pt,-704pt)}, width=106pt, height=389pt,
  ymin=1851.7, ymax=2522.4]
  \logtrack{\logG}{\gridG}{1964}{0.58}
\end{axis}
\depthlabel{560}{892}

\wellframe{863}{968}{1075}{615}{7-LI-0003-RJS}
\begin{axis}[track, depthticks, at={(863pt,-704pt)}, width=105pt, height=429pt,
  ymin=1750.4, ymax=2483.8, ytick={1800,2000,2200,2400}, yticklabels={1800,2000,2200,2400}]
  \modeltrack{\blkH}{\gridH}{1877}{0.585}
\end{axis}
\begin{axis}[logaxis, at={(968pt,-704pt)}, width=107pt, height=429pt,
  ymin=1750.4, ymax=2483.8]
  \logtrack{\logH}{\gridH}{1877}{0.585}
\end{axis}
\depthlabel{833}{852}

% ---- legend
\draw[qbrown, line width=6.7pt] (658pt,-1213pt) -- (717pt,-1213pt);
\node[anchor=west, inner sep=0pt, font=\legfont\fontsize{22}{22}\selectfont] at (726pt,-1214pt) {Q1};
\end{tikzpicture}
\end{document}
